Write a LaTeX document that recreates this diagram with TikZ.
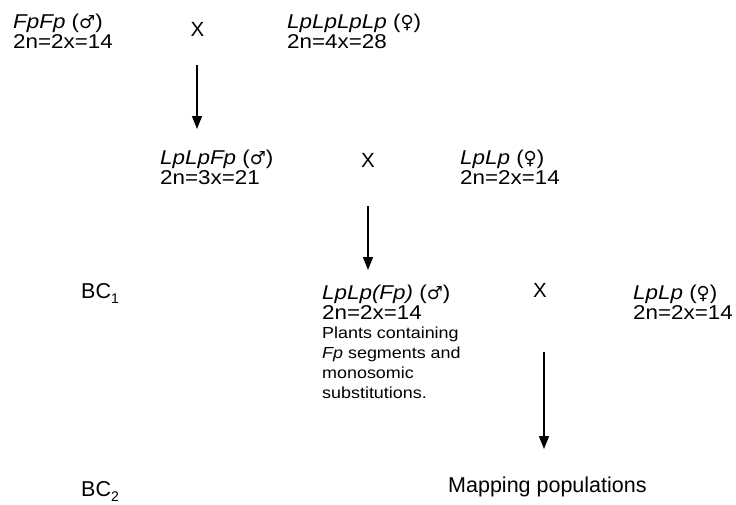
\documentclass[tikz,border=0pt]{standalone}
\usepackage{fontspec}
\setmainfont{Liberation Sans}
\newfontfamily\lab{Liberation Sans}[FakeStretch=1.12]
\newfontfamily\symf{DejaVu Sans}
\usetikzlibrary{arrows.meta}
\newcommand{\male}{{\symf\fontsize{18}{18}\selectfont\char"2642}}
\newcommand{\female}{{\symf\fontsize{18}{18}\selectfont\char"2640}}
\newcommand{\subnum}[1]{\raisebox{-5pt}{\fontsize{14}{14}\selectfont #1}}
\tikzset{
  lbl/.style={inner sep=0pt, anchor=base west, font=\lab\fontsize{20}{20}\selectfont},
  note/.style={inner sep=0pt, anchor=base west, font=\lab\fontsize{16}{20}\selectfont},
  big/.style={inner sep=0pt, anchor=base west, font=\fontsize{21.5}{24}\selectfont},
  cross/.style={inner sep=0pt, anchor=base, font=\fontsize{20.5}{22}\selectfont},
  arr/.style={line width=1.3pt, -{Triangle[length=13pt,width=10pt]}},
}
\begin{document}
\begin{tikzpicture}[x=1pt,y=-1pt]
\useasboundingbox (0,0) rectangle (736,504);
% row 1
\node[lbl] (p1) at (13,28) {\textit{FpFp} (\male)};
\node[lbl] (p1b) at (13,48) {2n=2x=14};
\node[cross] (x1) at (197.5,36) {X};
\node[lbl] (p2) at (287,28) {\textit{LpLpLpLp} (\female)};
\node[lbl] (p2b) at (287,48) {2n=4x=28};
% row 2
\node[lbl] (f1) at (160,164) {\textit{LpLpFp} (\male)};
\node[lbl] (f1b) at (160,184) {2n=3x=21};
\node[cross] (x2) at (368,167) {X};
\node[lbl] (p3) at (460,164) {\textit{LpLp} (\female)};
\node[lbl] (p3b) at (460,184) {2n=2x=14};
% row 3
\node[big] (bc1) at (81,298) {BC\subnum{1}};
\node[lbl] (b1) at (322,299) {\textit{LpLp(Fp)} (\male)};
\node[lbl] (b1b) at (322,319) {2n=2x=14};
\node[note] (n1) at (322,338) {Plants containing};
\node[note] (n2) at (322,358) {\textit{Fp} segments and};
\node[note] (n3) at (322,378) {monosomic};
\node[note] (n4) at (322,398) {substitutions.};
\node[cross] (x3) at (540,297) {X};
\node[lbl] (p4) at (633,299) {\textit{LpLp} (\female)};
\node[lbl] (p4b) at (633,319) {2n=2x=14};
% row 4
\node[big] (bc2) at (81,496) {BC\subnum{2}};
\node[big] (map) at (448,492) {Mapping populations};
% arrows
\coordinate (a1s) at (197,65);
\coordinate (a1e) at (197,129);
\coordinate (a2s) at (368,206);
\coordinate (a2e) at (368,270);
\coordinate (a3s) at (544,352);
\coordinate (a3e) at (544,449);
\draw[arr] (a1s) -- (a1e);
\draw[arr] (a2s) -- (a2e);
\draw[arr] (a3s) -- (a3e);
\end{tikzpicture}
\end{document}
